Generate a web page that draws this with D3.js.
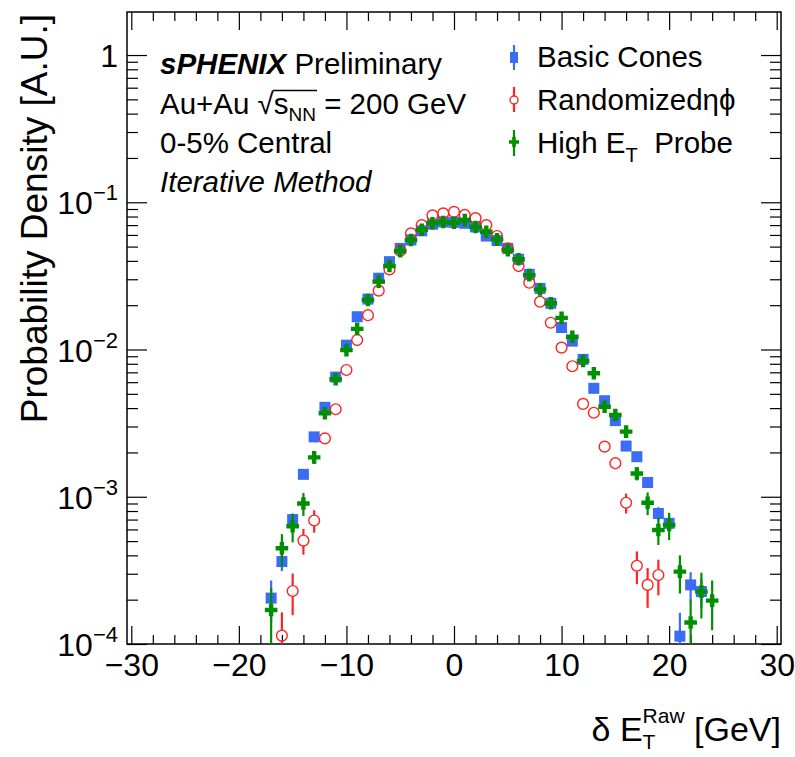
<!DOCTYPE html>
<html><head><meta charset="utf-8">
<script src="https://cdn.jsdelivr.net/npm/d3@7"></script>
<style>
body{margin:0;background:#fff;}
svg{display:block;}
text{font-family:"Liberation Sans",Arial,Helvetica,sans-serif;fill:#000;white-space:pre;}
</style>
</head><body>
<svg id="c" width="795" height="757"></svg>
<script>
// ---------------- data ----------------
const basicX = [-17,-16,-15,-14,-13,-12,-11,-10,-9,-8,-7,-6,-5,-4,-3,-2,-1,0,1,2,3,4,5,6,7,8,9,10,11,12,13,14,15,16,17,18,19,20,21,22,23];
const basicY = [2.05e-4,3.63e-4,7.0e-4,1.42e-3,2.55e-3,4.05e-3,6.5e-3,1.07e-2,1.67e-2,2.2e-2,3.05e-2,3.95e-2,4.86e-2,5.55e-2,6.4e-2,7.1e-2,7.35e-2,7.3e-2,7.2e-2,6.8e-2,5.9e-2,5.5e-2,4.86e-2,4.1e-2,3.24e-2,2.6e-2,2.06e-2,1.41e-2,1.14e-2,8.57e-3,5.45e-3,4.49e-3,3.29e-3,2.21e-3,1.87e-3,1.25e-3,7.7e-4,6.6e-4,1.13e-4,2.52e-4,2.27e-4];
const basicErr = [6.5e-5,5e-5,6e-5,8e-5,1e-4,0,0,0,0,0,0,0,0,0,0,0,0,0,0,0,0,0,0,0,0,0,0,0,0,0,0,0,0,0,0,1e-4,8e-5,8e-5,5e-5,5.5e-5,5e-5];

const randX = [-16,-15,-14,-13,-12,-11,-10,-9,-8,-7,-6,-5,-4,-3,-2,-1,0,1,2,3,4,5,6,7,8,9,10,11,12,13,14,15,16,17,18,19];
const randY = [1.14e-4,2.29e-4,5.04e-4,6.9e-4,2.49e-3,3.93e-3,7.26e-3,1.16e-2,1.71e-2,2.51e-2,3.5e-2,4.69e-2,6.15e-2,7.0e-2,8.15e-2,8.4e-2,8.6e-2,8.2e-2,7.8e-2,7.0e-2,5.9e-2,4.86e-2,3.69e-2,2.84e-2,2.11e-2,1.52e-2,1.03e-2,7.7e-3,4.27e-3,3.72e-3,2.19e-3,1.69e-3,9.1e-4,3.4e-4,2.52e-4,2.94e-4];
const randErr = [5e-5,7.2e-5,1.0e-4,1.2e-4,2e-4,0,0,0,0,0,0,0,0,0,0,0,0,0,0,0,0,0,0,0,0,0,0,0,0,0,0,1.5e-4,1.4e-4,8.5e-5,7.6e-5,8e-5];

const probeX = [-17,-16,-15,-14,-13,-12,-11,-10,-9,-8,-7,-6,-5,-4,-3,-2,-1,0,1,2,3,4,5,6,7,8,9,10,11,12,13,14,15,16,17,18,19,20,21,22,23,24];
const probeY = [1.7e-4,4.47e-4,6.3e-4,9.0e-4,1.85e-3,3.69e-3,6.28e-3,9.9e-3,1.38e-2,2.17e-2,2.89e-2,3.69e-2,4.66e-2,5.54e-2,6.5e-2,7.2e-2,7.35e-2,7.26e-2,7.57e-2,6.8e-2,6.3e-2,5.6e-2,4.73e-2,4.1e-2,3.2e-2,2.56e-2,2.06e-2,1.64e-2,1.22e-2,8.35e-3,6.9e-3,4.09e-3,3.59e-3,2.77e-3,1.44e-3,9.1e-4,5.95e-4,6.43e-4,3.1e-4,1.4e-4,2.27e-4,1.97e-4];
const probeErr = [7e-5,1.1e-4,1.4e-4,1.6e-4,1.8e-4,2e-4,0,0,0,0,0,0,0,0,0,0,0,0,0,0,0,0,0,0,0,0,0,0,0,0,0,0,2e-4,2e-4,1.5e-4,1.6e-4,1.25e-4,1.35e-4,9e-5,6e-5,7.8e-5,7.3e-5];

const xMajorTicks = [-30,-20,-10,0,10,20,30];
const yDecades = [1e-4,1e-3,1e-2,1e-1,1];
const yDecadeExp = ["−4","−3","−2","−1",""];
const legendNames = ["Basic Cones","Randomizedηϕ","High E"];

// ---------------- setup ----------------
const svg = d3.select("#c");
const L=127, R=781, T=12, B=644;
const x = d3.scaleLinear().domain([-30.4,30.4]).range([L,R]);
const y = d3.scaleLog().domain([1e-4,1.96]).range([B,T]);
const FONT = '"Liberation Sans",Arial,Helvetica,sans-serif';

const cBlue="#3a6cf6", cRed="#ff2323", cGreen="#008f00";

svg.append("rect").attr("width",795).attr("height",757).attr("fill","#fff");

// ticks
const xMinor = d3.range(-30,31,2).filter(v=>v%10!==0);
const yMinor = [];
[1e-4,1e-3,1e-2,1e-1].forEach(d=>{for(let k=2;k<=9;k++) yMinor.push(d*k);});

function clean(g){g.select(".domain").remove(); g.selectAll(".tick line").attr("stroke","#000").attr("stroke-width",1.2);}

svg.append("g").attr("transform",`translate(0,${B})`)
  .call(d3.axisBottom(x).tickValues(xMinor).tickSize(-9).tickFormat("")).call(clean);
const gx = svg.append("g").attr("transform",`translate(0,${B})`)
  .call(d3.axisBottom(x).tickValues(xMajorTicks).tickSize(-18).tickPadding(9).tickFormat(d3.format("d"))).call(clean);
gx.selectAll("text").attr("font-size",32).attr("font-family",FONT).attr("fill","#000");
svg.append("g").attr("transform",`translate(0,${T})`)
  .call(d3.axisTop(x).tickValues(xMinor).tickSize(-9).tickFormat("")).call(clean);
svg.append("g").attr("transform",`translate(0,${T})`)
  .call(d3.axisTop(x).tickValues(xMajorTicks).tickSize(-18).tickFormat("")).call(clean);

svg.append("g").attr("transform",`translate(${L},0)`)
  .call(d3.axisLeft(y).tickValues(yMinor).tickSize(-11).tickFormat("")).call(clean);
svg.append("g").attr("transform",`translate(${L},0)`)
  .call(d3.axisLeft(y).tickValues(yDecades).tickSize(-20).tickFormat("")).call(clean);
svg.append("g").attr("transform",`translate(${R},0)`)
  .call(d3.axisRight(y).tickValues(yMinor).tickSize(-11).tickFormat("")).call(clean);
svg.append("g").attr("transform",`translate(${R},0)`)
  .call(d3.axisRight(y).tickValues(yDecades).tickSize(-20).tickFormat("")).call(clean);

// y labels
yDecades.forEach((d,i)=>{
  const ty = y(d);
  const t = svg.append("text").attr("text-anchor","end").attr("font-size",32)
    .attr("x",118).attr("y",ty+12);
  if(yDecadeExp[i]===""){ t.text("1"); }
  else {
    t.append("tspan").text("10");
    t.append("tspan").attr("font-size",22).attr("dy",-14).text(yDecadeExp[i]);
  }
});

// frame
svg.append("rect").attr("x",L).attr("y",T).attr("width",R-L).attr("height",B-T)
  .attr("fill","none").attr("stroke","#000").attr("stroke-width",1.5);

// clip
svg.append("clipPath").attr("id","clip").append("rect").attr("x",L).attr("y",T).attr("width",R-L).attr("height",B-T);
const plot = svg.append("g").attr("clip-path","url(#clip)");

function mk(xs,ys,es){return xs.map((v,i)=>({x:v,y:ys[i],e:es[i]}));}
const sBasic = mk(basicX,basicY,basicErr);
const sRand = mk(randX,randY,randErr);
const sProbe = mk(probeX,probeY,probeErr);

function errBars(g,data,color,gap){
  data.filter(d=>d.e>0).forEach(d=>{
    const cx=x(d.x), cy=y(d.y);
    const top=y(d.y+d.e);
    const lo = d.y-d.e>1e-6 ? y(d.y-d.e) : B+10;
    if(cy-gap>top) g.append("line").attr("x1",cx).attr("x2",cx).attr("y1",top).attr("y2",cy-gap).attr("stroke",color).attr("stroke-width",2.2);
    if(lo>cy+gap) g.append("line").attr("x1",cx).attr("x2",cx).attr("y1",cy+gap).attr("y2",lo).attr("stroke",color).attr("stroke-width",2.2);
  });
}
const crossPath = (s,t)=>`M${-t},${-s}H${t}V${-t}H${s}V${t}H${t}V${s}H${-t}V${t}H${-s}V${-t}H${-t}Z`;

// Basic cones
const gB = plot.append("g");
errBars(gB,sBasic,cBlue,0);
gB.selectAll("rect").data(sBasic).join("rect")
  .attr("x",d=>x(d.x)-5.5).attr("y",d=>y(d.y)-5.5).attr("width",11).attr("height",11).attr("fill",cBlue);
// Randomized
const gR = plot.append("g");
errBars(gR,sRand,cRed,5.5);
gR.selectAll("circle").data(sRand).join("circle")
  .attr("cx",d=>x(d.x)).attr("cy",d=>y(d.y)).attr("r",5.4).attr("fill","none").attr("stroke",cRed).attr("stroke-width",1.4);
// High ET probe
const gP = plot.append("g");
errBars(gP,sProbe,cGreen,0);
gP.selectAll("path").data(sProbe).join("path")
  .attr("transform",d=>`translate(${x(d.x)},${y(d.y)})`).attr("d",crossPath(6.3,2.2)).attr("fill",cGreen);

// ---------------- legend ----------------
const lg = svg.append("g");
const lx = 514;
lg.append("line").attr("x1",lx).attr("x2",lx).attr("y1",45).attr("y2",70).attr("stroke",cBlue).attr("stroke-width",2.2);
lg.append("rect").attr("x",lx-4).attr("y",52).attr("width",8).attr("height",11).attr("fill",cBlue);
lg.append("line").attr("x1",lx).attr("x2",lx).attr("y1",87).attr("y2",96).attr("stroke",cRed).attr("stroke-width",2.2);
lg.append("line").attr("x1",lx).attr("x2",lx).attr("y1",104).attr("y2",112).attr("stroke",cRed).attr("stroke-width",2.2);
lg.append("circle").attr("cx",lx).attr("cy",100).attr("r",4).attr("fill","none").attr("stroke",cRed).attr("stroke-width",1.4);
lg.append("line").attr("x1",lx).attr("x2",lx).attr("y1",130).attr("y2",156).attr("stroke",cGreen).attr("stroke-width",2.2);
lg.append("path").attr("transform",`translate(${lx},142)`).attr("d",crossPath(5,1.8)).attr("fill",cGreen);

const LFS = 29.5;
lg.append("text").attr("x",537).attr("y",67).attr("font-size",LFS).text(legendNames[0]);
lg.append("text").attr("x",537).attr("y",110).attr("font-size",LFS).text(legendNames[1]);
const t3 = lg.append("text").attr("x",537).attr("y",153).attr("font-size",LFS);
t3.append("tspan").text(legendNames[2]);
t3.append("tspan").attr("font-size",20).attr("dy",9).text("T");
t3.append("tspan").attr("dy",-9).text("  Probe");

// ---------------- labels ----------------
const tfs = 29.5;
const l1 = svg.append("text").attr("x",160).attr("y",74).attr("font-size",tfs);
l1.append("tspan").attr("font-weight","bold").attr("font-style","italic").text("sPHENIX");
l1.append("tspan").text(" Preliminary");

// Au+Au sqrt(s_NN) line, built from measured pieces
(function(){
  let cx = 160; const by = 113.5;
  function piece(txt,fs,dy){
    const t = svg.append("text").attr("x",cx).attr("y",by+dy).attr("font-size",fs).text(txt);
    const w = t.node().getComputedTextLength(); cx += w; return t;
  }
  piece("Au+Au\u00a0",tfs,0);
  piece("√",tfs,0);
  const ovStart = cx;
  piece("s",tfs,0);
  piece("NN",19,7);
  const ovEnd = cx;
  svg.append("line").attr("x1",ovStart-1).attr("x2",ovEnd+1).attr("y1",by-23).attr("y2",by-23).attr("stroke","#000").attr("stroke-width",1.3);
  piece("\u00a0= 200 GeV",tfs,0);
})();
svg.append("text").attr("x",160).attr("y",153).attr("font-size",tfs).text("0-5% Central");
svg.append("text").attr("x",160).attr("y",192).attr("font-size",tfs).attr("font-style","italic").text("Iterative Method");

// y title
svg.append("text").attr("transform","translate(47,14) rotate(-90)").attr("text-anchor","end")
  .attr("font-size",37).text("Probability Density [A.U.]");

// x title: δ E_T^Raw [GeV], right aligned at R
(function(){
  const by = 741, fs = 34;
  const g = svg.append("g");
  const a = g.append("text").attr("y",by).attr("font-size",fs).text("δ\u00a0E");
  const sub = g.append("text").attr("y",by+8).attr("font-size",21).text("T");
  const sup = g.append("text").attr("y",by-18).attr("font-size",21).text("Raw");
  const b = g.append("text").attr("y",by).attr("font-size",fs).text("\u00a0[GeV]");
  const wa=a.node().getComputedTextLength(), ws=Math.max(sub.node().getComputedTextLength(),sup.node().getComputedTextLength()), wb=b.node().getComputedTextLength();
  let x0 = R - (wa+ws+wb);
  a.attr("x",x0); sub.attr("x",x0+wa); sup.attr("x",x0+wa); b.attr("x",x0+wa+ws);
})();
</script>
</body></html>
